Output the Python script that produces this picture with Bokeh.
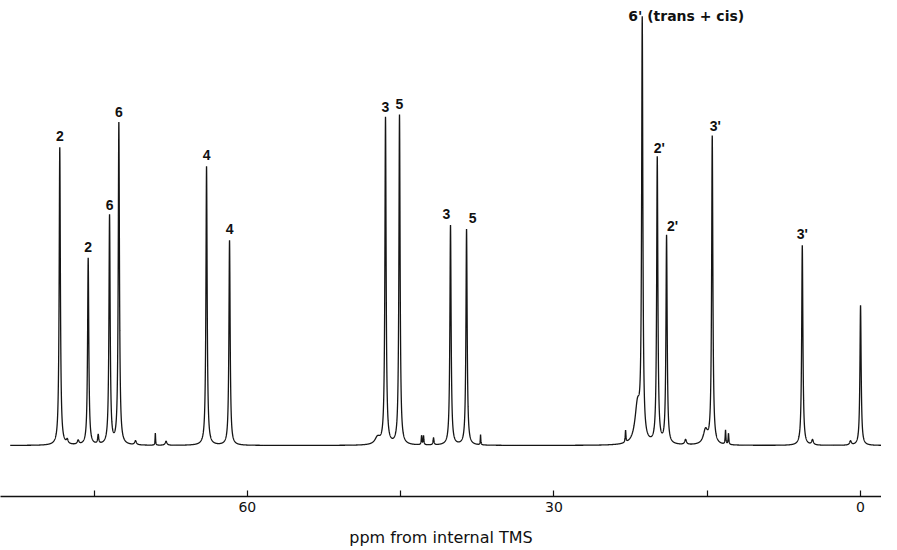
import numpy as np
from bokeh.plotting import figure
from bokeh.models import Range1d, FixedTicker, ColumnDataSource
from bokeh.core.properties import value
from bokeh.embed import file_html
from bokeh.resources import INLINE

# Main resonances (ppm, relative intensity)
peak_ppm = [78.35, 75.57, 73.48, 72.57, 63.99, 61.74, 46.48, 45.11, 40.12, 38.55,
            21.36, 19.89, 18.98, 14.51, 5.70, 0.0]
peak_height = [298, 187, 229, 322, 279, 205, 327, 330, 220, 216,
               417, 286, 208, 308, 200, 140]
peak_label = ["2", "2", "6", "6", "4", "4", "3", "5", "3", "5",
              "", "2'", "2'", "3'", "3'", ""]
label_dx = [0, 0, 0, 0, 0, 0, 0, 0, -4, 6, 0, 2, 6, 3, 0, 0]

# Small baseline features (ppm, intensity, half-width in ppm)
minor_ppm = [77.62, 76.55, 74.59, 70.94, 69.00, 67.95, 47.26, 42.95, 42.76, 41.78,
             37.18, 22.99, 21.82, 17.12, 15.17, 13.21, 12.92, 4.70, 0.98]
minor_height = [4, 4, 9, 4, 12, 4, 7, 9, 9, 7, 10, 12, 38, 5, 14, 14, 11, 5, 4]
minor_width = [0.1, 0.1, 0.06, 0.1, 0.03, 0.1, 0.3, 0.04, 0.04, 0.05, 0.03, 0.04,
               0.3, 0.1, 0.25, 0.04, 0.04, 0.1, 0.1]

tick_values = [75, 60, 45, 30, 15, 0]
tick_labels = {75: "", 60: "60", 45: "", 30: "30", 15: "", 0: "0"}

peak_gamma = 0.07

ppm = np.arange(83.2, -2.1, -0.005)
intensity = np.zeros_like(ppm)
for x0, h in zip(peak_ppm, peak_height):
    intensity += h * peak_gamma**2 / (peak_gamma**2 + (ppm - x0) ** 2)
for x0, h, g in zip(minor_ppm, minor_height, minor_width):
    intensity += h * g**2 / (g**2 + (ppm - x0) ** 2)

p = figure(frame_width=881, frame_height=496,
           x_range=Range1d(84.15, -2.05), y_range=Range1d(-51, 445),
           output_backend="svg", toolbar_location=None,
           y_axis_location=None, min_border=0,
           background_fill_color="white", border_fill_color="white")
p.outline_line_color = None
p.xgrid.visible = False
p.ygrid.visible = False

p.line(ppm, intensity, line_color="#151515", line_width=1.3)

lab_src = ColumnDataSource(dict(
    x=[x for x, t in zip(peak_ppm, peak_label) if t],
    y=[y for y, t in zip(peak_height, peak_label) if t],
    text=[t for t in peak_label if t],
    dx=[d for d, t in zip(label_dx, peak_label) if t],
))
p.text(x="x", y="y", text="text", x_offset="dx", y_offset=-12, source=lab_src,
       text_align="center", text_baseline="middle",
       text_font=value("Liberation Sans"), text_font_size="14px",
       text_font_style="bold", text_color="#111111")

p.text(x=[peak_ppm[10]], y=[peak_height[10]], text=["6'  (trans + cis)"],
       x_offset=-14, y_offset=-13, text_align="left", text_baseline="middle",
       text_font=value("DejaVu Sans"), text_font_size="14px",
       text_font_style="bold", text_color="#111111")

ax = p.xaxis[0]
ax.ticker = FixedTicker(ticks=tick_values)
ax.major_label_overrides = tick_labels
ax.minor_tick_line_color = None
ax.major_tick_in = 6
ax.major_tick_out = 0
ax.major_tick_line_width = 1.2
ax.major_tick_line_color = "#111111"
ax.axis_line_width = 1.5
ax.axis_line_color = "#111111"
ax.major_label_standoff = 5
ax.major_label_text_font = "DejaVu Sans"
ax.major_label_text_font_size = "14px"
ax.major_label_text_color = "#111111"
ax.axis_label = "ppm from internal TMS"
ax.axis_label_standoff = 13
ax.axis_label_text_font = "DejaVu Sans"
ax.axis_label_text_font_size = "16px"
ax.axis_label_text_font_style = "normal"
ax.axis_label_text_color = "#111111"

open("out.html", "w").write(file_html(p, INLINE))
